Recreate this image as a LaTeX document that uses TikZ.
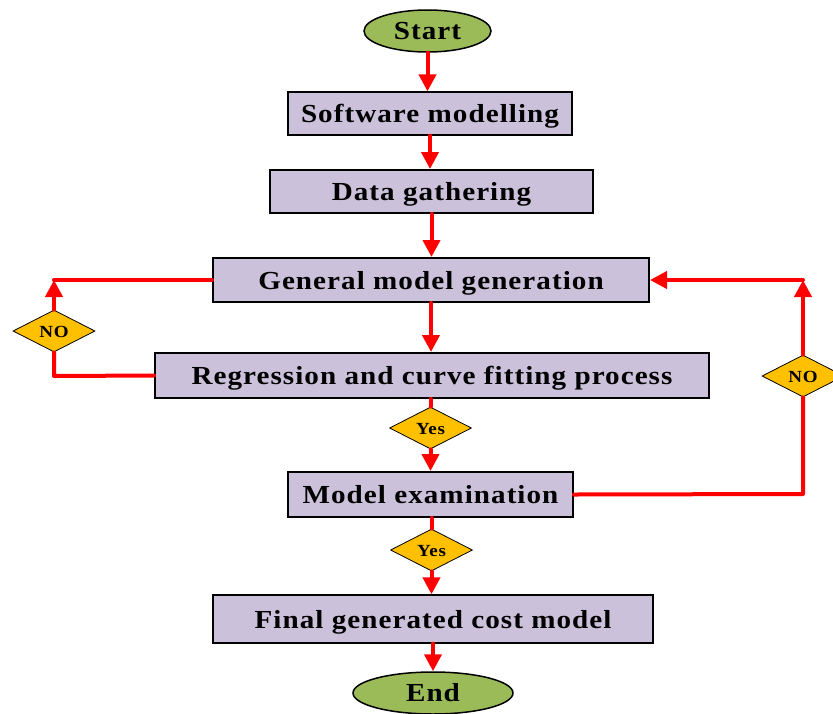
\documentclass[tikz,border=0pt]{standalone}
\usepackage{fontspec}
\newfontfamily\lblfont[LetterSpace=4,FakeStretch=1.12]{Liberation Serif}
\usetikzlibrary{shapes.geometric,arrows.meta}
\definecolor{boxfill}{RGB}{204,193,218}
\definecolor{termfill}{RGB}{155,187,89}
\definecolor{decfill}{RGB}{255,192,0}
\definecolor{arrred}{RGB}{255,0,0}
\begin{document}
\begin{tikzpicture}[x=1pt,y=-1pt,
  procbox/.style={draw=black,line width=1.3pt,fill=boxfill,inner sep=0pt,
    text height=22pt,text depth=4pt,
    font=\lblfont\bfseries\fontsize{26}{30}\selectfont},
  thickbox/.style={procbox,line width=2pt},
  term/.style={ellipse,draw=black,line width=1.5pt,fill=termfill,inner sep=0pt,
    text height=22pt,text depth=5pt,
    font=\lblfont\bfseries\fontsize{26}{30}\selectfont},
  dec/.style={diamond,aspect=2,draw=black,line width=0.8pt,fill=decfill,inner sep=0pt,
    minimum width=82pt,minimum height=42pt,text height=12pt,text depth=0pt,
    font=\lblfont\bfseries\fontsize{17}{20}\selectfont},
  flow/.style={draw=arrred,line width=4pt,line cap=round,line join=round},
  arr/.style={flow,-{Triangle[length=17pt,width=17pt]}}
]
\useasboundingbox (0,0) rectangle (833,713);

\node[term,minimum width=127pt,minimum height=42pt] (start) at (427.5,31) {Start};
\node[procbox,minimum width=284pt,minimum height=43pt] (soft) at (430,113.5) {Software modelling};
\node[thickbox,minimum width=323pt,minimum height=43pt] (data) at (431.5,191.5) {Data gathering};
\node[thickbox,minimum width=436pt,minimum height=44pt] (gen) at (431,280) {General model generation};
\node[thickbox,minimum width=554pt,minimum height=45pt] (reg) at (432,375.5) {Regression and curve fitting process};
\node[dec] (yes1) at (430.5,428) {Yes};
\node[thickbox,minimum width=285pt,minimum height=45pt] (model) at (430.5,494.5) {Model examination};
\node[dec] (yes2) at (431.5,550) {Yes};
\node[procbox,minimum width=440pt,minimum height=48pt] (final) at (433,619) {Final generated cost model};
\node[term,minimum width=160pt,minimum height=42pt] (end) at (433,693) {End};

\node[dec] (no1) at (54,331) {NO};
\node[dec] (no2) at (803,376) {NO};

\coordinate (l1) at (54,376);
\coordinate (l2) at (54,280);
\coordinate (r1) at (803,494);
\coordinate (r2) at (803,280);

% main flow
\draw[arr] (start.south) -- (start.south |- soft.north);
\draw[arr] (soft.south) -- (soft.south |- data.north);
\draw[arr] (data.south) -- (data.south |- gen.north);
\draw[arr] (gen.south) -- (gen.south |- reg.north);
\draw[flow] (yes1.north |- reg.south) -- (yes1.north);
\draw[arr] (yes1.south) -- (yes1.south |- model.north);
\draw[flow] (yes2.north |- model.south) -- (yes2.north);
\draw[arr] (yes2.south) -- (yes2.south |- final.north);
\draw[arr] (final.south) -- (final.south |- end.north);

% left loop
\draw[flow] (reg.west) -- (l1) -- (no1.south);
\draw[arr] (no1.north) -- (l2);
\draw[flow] (l2) -- (gen.west);

% right loop
\draw[flow] (model.east) -- (r1) -- (no2.south);
\draw[arr] (no2.north) -- (r2);
\draw[arr] (r2) -- (gen.east);
\end{tikzpicture}
\end{document}
